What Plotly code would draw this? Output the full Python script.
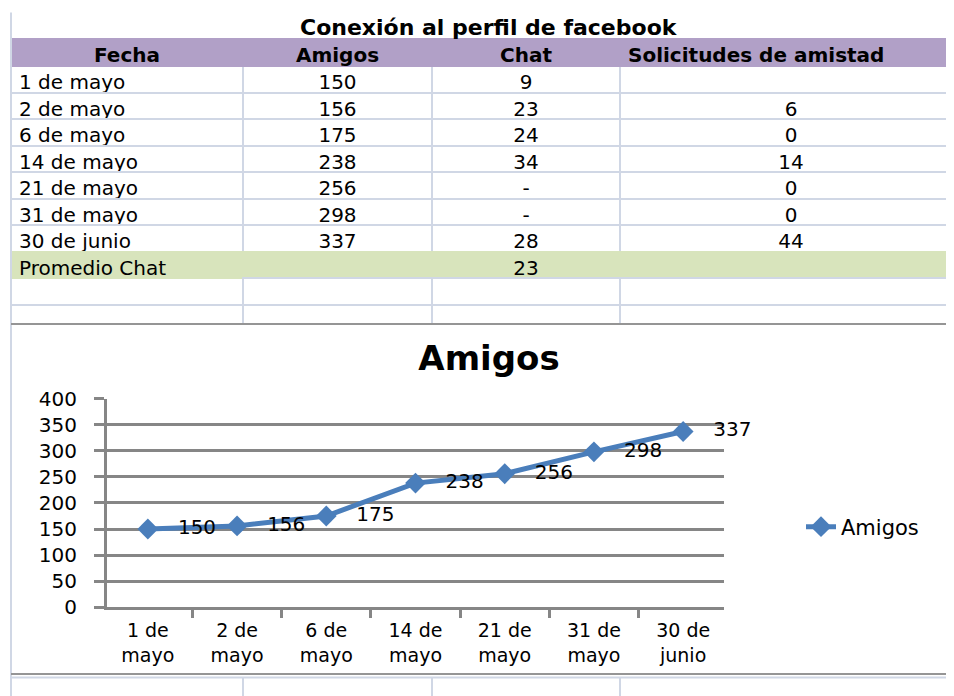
import plotly.graph_objects as go

W, H = 954, 696

titulo_tabla = "Conexión al perfil de facebook"
encabezados = ["Fecha", "Amigos", "Chat", "Solicitudes de amistad"]
fechas = ["1 de mayo", "2 de mayo", "6 de mayo", "14 de mayo", "21 de mayo", "31 de mayo", "30 de junio"]
amigos = [150, 156, 175, 238, 256, 298, 337]
chat = ["9", "23", "24", "34", "-", "-", "28"]
solicitudes = ["", "6", "0", "14", "0", "0", "44"]
promedio_label = "Promedio Chat"
promedio_chat = 23

GRID = "#D0D7E5"
PURPLE = "#B1A0C7"
GREEN = "#D8E4BC"
AXIS = "#868686"
BLUE = "#4A7EBB"
FONT = "DejaVu Sans"

# the page puts the paper at (8, 20.5) and draws it 670px tall; convert page pixels to paper fractions
OX, OY, HP = 8, 20.5, 670


def px(x):
    return (x - OX) / W


def py(y):
    return 1 - (y - OY) / HP


n = len(fechas)
col_a = fechas + [promedio_label, ""]
col_b = [str(v) for v in amigos] + ["", ""]
col_c = chat + [str(promedio_chat), ""]
col_d = solicitudes + ["", ""]
row_fill = ["white"] * n + [GREEN, "white"]
row_line = [GRID] * n + [GREEN, GRID]

fig = go.Figure()

# table spans page x 11..962, so the widths add up to 951 px
fig.add_trace(
    go.Table(
        domain=dict(x=[px(11), 1], y=[py(330), py(39)]),
        columnwidth=[232, 189, 188, 342],
        header=dict(
            values=encabezados,
            fill_color=PURPLE,
            line=dict(color=PURPLE, width=2),
            align=["center", "center", "center", "left"],
            font=dict(family=FONT, size=20, color="black", weight="bold"),
            height=27.7,
        ),
        cells=dict(
            values=[col_a, col_b, col_c, col_d],
            fill_color=[row_fill] * 4,
            line=dict(color=[row_line] * 4, width=2),
            align=["left", "center", "center", "center"],
            font=dict(family=FONT, size=20, color="black"),
            height=26.5,
        ),
    )
)

xlabels = ["<br>".join(f.rsplit(" ", 1)) for f in fechas]

fig.add_trace(
    go.Scatter(
        x=fechas,
        y=amigos,
        mode="lines+markers+text",
        name="Amigos",
        line=dict(color=BLUE, width=5),
        marker=dict(symbol="diamond", size=16, color=BLUE),
        texttemplate="\u00a0\u00a0\u00a0%{y}",
        textposition="middle right",
        textfont=dict(family=FONT, size=20, color="black"),
        cliponaxis=False,
    )
)

shapes = []


def hline(y, x0, x1, color, width=2):
    shapes.append(dict(type="line", xref="paper", yref="paper", x0=px(x0), x1=px(x1),
                       y0=py(y), y1=py(y), line=dict(color=color, width=width)))


def vline(x, y0, y1, color, width=2):
    shapes.append(dict(type="line", xref="paper", yref="paper", x0=px(x), x1=px(x),
                       y0=py(y0), y1=py(y1), line=dict(color=color, width=width)))


vline(11, 13, 700, GRID)
for xc in (243, 432, 620):
    vline(xc, 305, 323, GRID)
    vline(xc, 676, 700, GRID)
hline(676, 11, 970, GRID)
hline(323.5, 11, 970, "#959595")
hline(672.5, 11, 970, "#959595")

fig.update_layout(
    width=W,
    height=H,
    margin=dict(l=0, r=0, t=0, b=0),
    paper_bgcolor="white",
    plot_bgcolor="white",
    font=dict(family=FONT, size=20, color="black"),
    shapes=shapes,
    title=dict(text="<b>Amigos</b>", x=px(489), y=py(358), xanchor="center", yanchor="middle",
               font=dict(family=FONT, size=34, color="black")),
    annotations=[
        dict(text=f"<b>{titulo_tabla}</b>", x=px(489), y=py(28), xref="paper", yref="paper",
             showarrow=False, xanchor="center", yanchor="middle",
             font=dict(family=FONT, size=22, color="black"))
    ],
    showlegend=True,
    legend=dict(x=px(801), y=py(526), xanchor="left", yanchor="middle",
                bgcolor="rgba(0,0,0,0)", font=dict(family=FONT, size=21, color="black")),
    xaxis=dict(
        type="category",
        domain=[px(107), px(724)],
        tickvals=fechas,
        ticktext=xlabels,
        tickson="boundaries",
        showgrid=False,
        showline=True,
        linecolor=AXIS,
        linewidth=3,
        ticks="outside",
        ticklen=8,
        tickwidth=3,
        tickcolor=AXIS,
        ticklabelstandoff=4,
        tickfont=dict(family=FONT, size=19, color="black"),
        fixedrange=True,
    ),
    yaxis=dict(
        domain=[py(606), py(398)],
        range=[0, 400],
        dtick=50,
        showgrid=True,
        gridcolor=AXIS,
        gridwidth=3,
        zeroline=False,
        showline=True,
        linecolor=AXIS,
        linewidth=3,
        ticks="outside",
        ticklen=10,
        tickwidth=3,
        tickcolor=AXIS,
        ticklabelstandoff=13,
        tickfont=dict(family=FONT, size=20, color="black"),
        fixedrange=True,
    ),
)

fig.write_html("out.html")
